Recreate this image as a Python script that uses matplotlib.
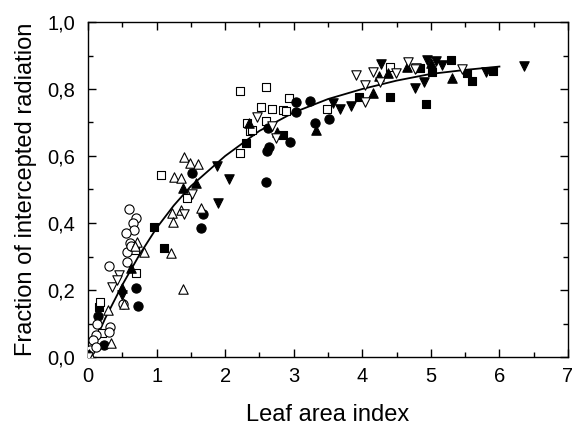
import matplotlib
matplotlib.use("Agg")
import matplotlib.pyplot as plt
from matplotlib.ticker import MultipleLocator, FuncFormatter

plt.rcParams['font.family'] = ['Liberation Sans', 'DejaVu Sans']

# --- data ---
fc_x = [0.15, 0.23, 0.695, 0.73, 1.65, 1.67, 1.52, 2.59, 2.61, 2.64, 2.63, 2.95, 3.03, 3.04, 3.24, 3.31, 3.51]
fc_y = [0.122, 0.036, 0.207, 0.152, 0.384, 0.427, 0.548, 0.521, 0.616, 0.626, 0.683, 0.643, 0.732, 0.762, 0.764, 0.698, 0.71]

oc_x = [0.60, 0.695, 0.66, 0.67, 0.56, 0.61, 0.57, 0.57, 0.31, 0.515, 0.13, 0.32, 0.31, 0.11, 0.08, 0.03, 0.0, 0.62, 0.12]
oc_y = [0.441, 0.414, 0.401, 0.379, 0.369, 0.339, 0.314, 0.284, 0.273, 0.157, 0.10, 0.089, 0.076, 0.066, 0.05, 0.02, 0.005, 0.33, 0.03]

fs_x = [0.165, 0.96, 1.11, 2.30, 2.85, 3.95, 4.40, 4.93, 5.02, 4.84, 5.29, 5.52, 5.60, 5.91]
fs_y = [0.150, 0.389, 0.324, 0.638, 0.663, 0.775, 0.777, 0.755, 0.852, 0.862, 0.887, 0.847, 0.825, 0.855]

os_x = [0.175, 0.20, 0.68, 0.695, 1.07, 1.45, 2.22, 2.32, 2.36, 2.22, 2.60, 2.53, 2.68, 2.85, 2.89, 2.59, 2.39, 2.93, 3.49, 4.40]
os_y = [0.165, 0.071, 0.319, 0.252, 0.543, 0.474, 0.795, 0.699, 0.676, 0.608, 0.807, 0.747, 0.74, 0.737, 0.735, 0.704, 0.678, 0.772, 0.74, 0.867]

ft_x = [0.50, 0.62, 1.38, 1.57, 2.35, 2.75, 3.32, 4.15, 4.25, 4.38, 4.65, 5.00, 5.31, 0.02]
ft_y = [0.205, 0.265, 0.503, 0.518, 0.70, 0.673, 0.678, 0.787, 0.839, 0.849, 0.865, 0.877, 0.832, 0.01]

ot_x = [0.72, 0.81, 1.21, 1.38, 0.29, 1.23, 1.24, 1.65, 1.35, 0.53, 0.33, 1.40, 1.49, 1.60, 1.25, 1.35, 0.05, 0.68]
ot_y = [0.344, 0.314, 0.31, 0.203, 0.14, 0.43, 0.404, 0.444, 0.439, 0.157, 0.041, 0.598, 0.58, 0.576, 0.536, 0.533, 0.0, 0.33]

fd_x = [1.90, 0.49, 1.88, 2.05, 3.58, 3.67, 3.83, 4.27, 4.77, 4.90, 4.94, 5.07, 5.16, 5.80, 6.36]
fd_y = [0.46, 0.185, 0.570, 0.530, 0.757, 0.74, 0.75, 0.875, 0.802, 0.822, 0.887, 0.885, 0.872, 0.852, 0.869]

od_x = [0.45, 0.354, 0.43, 1.40, 1.51, 2.47, 2.69, 2.74, 4.04, 4.04, 3.91, 4.15, 4.26, 4.49, 4.67, 4.78, 4.77, 5.46, 0.0]
od_y = [0.245, 0.208, 0.23, 0.427, 0.487, 0.717, 0.69, 0.653, 0.762, 0.812, 0.842, 0.852, 0.822, 0.847, 0.881, 0.862, 0.859, 0.859, 0.0]

curve_x = [0.0, 0.25, 0.5, 0.75, 1.0, 1.25, 1.5, 2.0, 2.5, 3.0, 3.5, 4.0, 4.5, 5.0, 5.5, 6.0]
curve_y = [0.0, 0.115, 0.215, 0.305, 0.385, 0.452, 0.51, 0.60, 0.675, 0.73, 0.77, 0.80, 0.825, 0.845, 0.857, 0.867]

x_ticks = [0, 1, 2, 3, 4, 5, 6, 7]
y_ticks = [0.0, 0.2, 0.4, 0.6, 0.8, 1.0]

fig = plt.figure(figsize=(5.72, 4.30), dpi=100)
ax = fig.add_axes([88/572, 1-357/430, (568-88)/572, (357-22)/430])

ax.plot(curve_x, curve_y, color='black', lw=1.3, zorder=2)

S = 38
lw = 0.8
ax.scatter(fs_x, fs_y, marker='s', s=S, c='black', edgecolors='black', linewidths=lw, zorder=3)
ax.scatter(os_x, os_y, marker='s', s=S, c='white', edgecolors='black', linewidths=lw, zorder=3)
ax.scatter(fc_x, fc_y, marker='o', s=S+6, c='black', edgecolors='black', linewidths=lw, zorder=3)
ax.scatter(oc_x, oc_y, marker='o', s=S+6, c='white', edgecolors='black', linewidths=lw, zorder=3)
ax.scatter(ft_x, ft_y, marker='^', s=S+8, c='black', edgecolors='black', linewidths=lw, zorder=3)
ax.scatter(ot_x, ot_y, marker='^', s=S+8, c='white', edgecolors='black', linewidths=lw, zorder=3)
ax.scatter(fd_x, fd_y, marker='v', s=S+8, c='black', edgecolors='black', linewidths=lw, zorder=3)
ax.scatter(od_x, od_y, marker='v', s=S+8, c='white', edgecolors='black', linewidths=lw, zorder=3)

ax.set_xlim(0, 7)
ax.set_ylim(0, 1.0)
ax.set_xticks(x_ticks)
ax.set_yticks(y_ticks)
ax.xaxis.set_minor_locator(MultipleLocator(0.5))
ax.yaxis.set_minor_locator(MultipleLocator(0.1))
ax.yaxis.set_major_formatter(FuncFormatter(lambda v, p: f"{v:.1f}".replace('.', ',')))
ax.tick_params(which='both', direction='in', top=True, right=True, labelsize=14.5)
ax.tick_params(which='major', length=6, width=1)
ax.tick_params(which='minor', length=3.5, width=1)
ax.tick_params(axis='x', pad=7)
ax.tick_params(axis='y', pad=9)
for sp in ax.spines.values():
    sp.set_linewidth(1.0)

ax.set_xlabel('Leaf area index', fontsize=17, labelpad=13)
ax.set_ylabel('Fraction of intercepted radiation', fontsize=17, labelpad=8)

fig.savefig('out.png', dpi=100)
